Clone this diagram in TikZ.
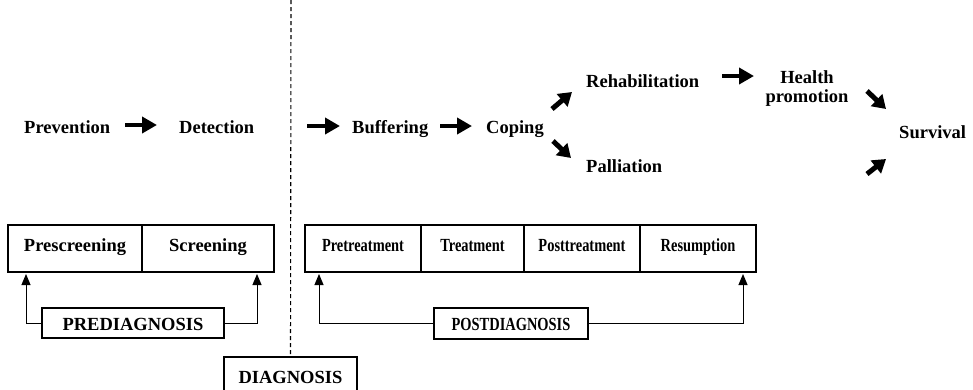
\documentclass[tikz,border=0pt]{standalone}
\usepackage{fontspec}
\setmainfont{Liberation Serif}
\usetikzlibrary{arrows.meta}
\newcommand{\narrow}[1]{\scalebox{0.78}[1]{#1}}
\begin{document}
\begin{tikzpicture}[x=1pt,y=-1pt,
  lab/.style={font=\fontsize{18.5}{19}\selectfont\bfseries, inner sep=0pt, anchor=base west},
  fat/.style={line width=4.7pt, -{Triangle[length=15pt,width=16pt]}},
  fatd/.style={line width=5pt, -{Triangle[length=13pt,width=16pt]}},
  cell/.style={draw, line width=1.1pt, inner sep=0pt, outer sep=0pt, minimum height=47pt,
    anchor=north west, text height=11pt, text depth=6pt,
    font=\fontsize{18.5}{19}\selectfont\bfseries},
  tag/.style={draw, line width=1.1pt, inner sep=0pt, outer sep=0pt,
    text height=14pt, text depth=0pt, font=\fontsize{18.5}{19}\selectfont\bfseries},
  conn/.style={line width=1pt, -{Triangle[length=11pt,width=9pt]}}]
\useasboundingbox (0,0) rectangle (973,389);
\clip (0,0) rectangle (973,389);

% stage labels of the upper row
\node[lab] (prev) at (24,133) {Prevention};
\node[lab] (det)  at (179,133) {Detection};
\node[lab] (buf)  at (352,133) {Buffering};
\node[lab] (cop)  at (486,133) {Coping};
\node[lab] (reh)  at (586,87) {Rehabilitation};
\node[lab] (pal)  at (586,172) {Palliation};
\node[lab, anchor=base, align=center] (hp) at (807,102) {Health\\promotion};
\node[lab] (surv) at (899,138) {Survival};

% ends of the bold arrows
\coordinate (a1s) at (125,125); \coordinate (a1e) at (157,125);
\coordinate (a2s) at (307,126); \coordinate (a2e) at (340,126);
\coordinate (a3s) at (440,126); \coordinate (a3e) at (472,126);
\coordinate (a4s) at (552,109); \coordinate (a4e) at (572,92);
\coordinate (a5s) at (553,141); \coordinate (a5e) at (571,158);
\coordinate (a6s) at (722,76);  \coordinate (a6e) at (754,76);
\coordinate (a7s) at (867,91);  \coordinate (a7e) at (886,109);
\coordinate (a8s) at (867,174); \coordinate (a8e) at (886,159);

\draw[fat] (a1s) -- (a1e);
\draw[fat] (a2s) -- (a2e);
\draw[fat] (a3s) -- (a3e);
\draw[fatd] (a4s) -- (a4e);
\draw[fatd] (a5s) -- (a5e);
\draw[fat] (a6s) -- (a6e);
\draw[fatd] (a7s) -- (a7e);
\draw[fatd] (a8s) -- (a8e);

% phase cells
\node[cell, minimum width=134pt] (presc) at (8,225) {Prescreening};
\node[cell, minimum width=132pt] (scr) at (142,225) {Screening};
\node[cell, minimum width=116pt] (pret) at (305,225) {\narrow{Pretreatment}};
\node[cell, minimum width=103pt] (treat) at (421,225) {\narrow{Treatment}};
\node[cell, minimum width=116pt] (postt) at (524,225) {\narrow{Posttreatment}};
\node[cell, minimum width=116pt] (resum) at (640,225) {\narrow{Resumption}};

% period tags
\node[tag, minimum width=182pt, minimum height=30pt] (pre) at (133,323) {PREDIAGNOSIS};
\node[tag, minimum width=154pt, minimum height=31pt] (post) at (511,323.5) {\narrow{POSTDIAGNOSIS}};
\node[tag, minimum width=133pt, minimum height=44pt, text height=13pt, text depth=5pt,
  anchor=north] (diag) at (290.5,357) {DIAGNOSIS};

% pointers from tags to cells
\draw[conn] (pre.west) -| ([xshift=18pt,yshift=-2pt]presc.south west);
\draw[conn] (pre.east) -| ([xshift=-17pt,yshift=-2pt]scr.south east);
\draw[conn] (post.west) -| ([xshift=14pt,yshift=-2pt]pret.south west);
\draw[conn] (post.east) -| ([xshift=-13pt,yshift=-2pt]resum.south east);

% divider between pre- and post-diagnosis
\coordinate (dtop) at (291,0);
\draw[line width=1.1pt, dash pattern=on 4pt off 3pt] (dtop) -- (diag.north);
\end{tikzpicture}
\end{document}
